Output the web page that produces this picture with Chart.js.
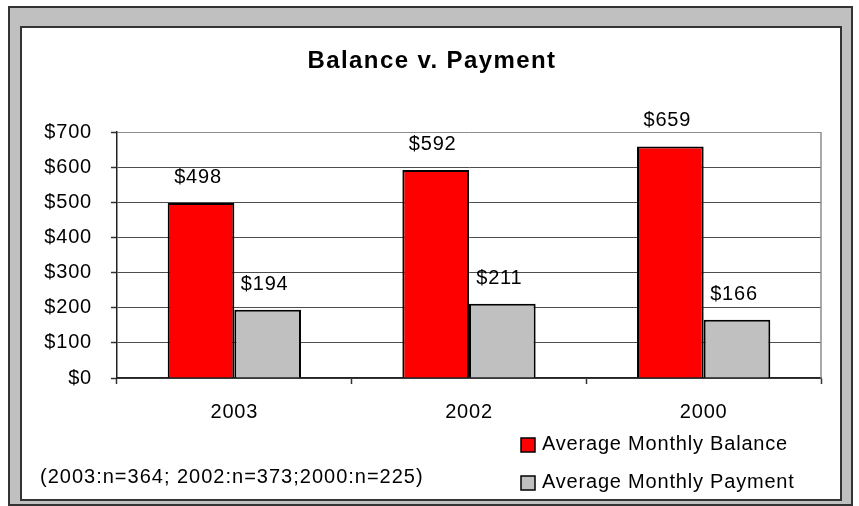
<!DOCTYPE html>
<html>
<head>
<meta charset="utf-8">
<script src="https://cdn.jsdelivr.net/npm/chart.js@4/dist/chart.umd.min.js"></script>
<style>
html,body{margin:0;padding:0;background:#fff;width:859px;height:506px;overflow:hidden;}
#outer{position:absolute;left:8px;top:6px;width:841px;height:496px;background:#c0c0c0;border:2px solid #333;}
#inner{position:absolute;left:20px;top:26px;width:818px;height:471px;background:#fff;border:2px solid #333;}
canvas{position:absolute;left:0;top:0;}
</style>
</head>
<body>
<div id="outer"></div>
<div id="inner"></div>
<canvas id="c" width="859" height="506"></canvas>
<script>
const categories = ['2003', '2002', '2000'];
const balanceValues = [498, 592, 659];
const paymentValues = [194, 211, 166];
const seriesNames = ['Average Monthly Balance', 'Average Monthly Payment'];
const yTickValues = [0, 100, 200, 300, 400, 500, 600, 700];
const chartTitle = 'Balance v. Payment';
const footnote = '(2003:n=364; 2002:n=373;2000:n=225)';

const FONT = '"Liberation Sans", Arial, sans-serif';

const spacingPlugin = {
  id: 'spacing',
  beforeDraw(chart) { chart.ctx.letterSpacing = '0.8px'; }
};

const valueLabels = {
  id: 'valueLabels',
  afterDatasetsDraw(chart) {
    const ctx = chart.ctx;
    ctx.save();
    ctx.letterSpacing = '0.8px';
    ctx.font = '20px ' + FONT;
    ctx.fillStyle = '#000';
    ctx.textAlign = 'center';
    ctx.textBaseline = 'alphabetic';
    chart.data.datasets.forEach((ds, i) => {
      chart.getDatasetMeta(i).data.forEach((bar, j) => {
        ctx.fillText('$' + ds.data[j], bar.x - 3, bar.y - 20);
      });
    });
    ctx.restore();
  }
};

const decor = {
  id: 'decor',
  afterDraw(chart) {
    const ctx = chart.ctx;
    const a = chart.chartArea;
    ctx.save();
    ctx.strokeStyle = '#8c8c8c';
    ctx.lineWidth = 1.5;
    ctx.beginPath();
    ctx.moveTo(a.right, a.top);
    ctx.lineTo(a.right, a.bottom);
    ctx.stroke();

    ctx.fillStyle = '#000';
    ctx.font = 'bold 24px ' + FONT;
    ctx.letterSpacing = '1.4px';
    ctx.textAlign = 'center';
    ctx.textBaseline = 'alphabetic';
    ctx.fillText(chartTitle, 432, 68);

    ctx.font = '20px ' + FONT;
    ctx.letterSpacing = '0.8px';
    ctx.textAlign = 'left';
    const rows = [450, 488];
    chart.data.datasets.forEach((ds, i) => {
      const y = rows[i];
      ctx.fillStyle = ds.backgroundColor;
      ctx.fillRect(521, y - 12, 14, 14);
      ctx.strokeStyle = '#000';
      ctx.lineWidth = 1.5;
      ctx.strokeRect(521, y - 12, 14, 14);
      ctx.fillStyle = '#000';
      ctx.fillText(ds.label, 542, y);
    });
    ctx.letterSpacing = '1px';
    ctx.fillText(footnote, 40, 483);
    ctx.restore();
  }
};

new Chart(document.getElementById('c'), {
  type: 'bar',
  data: {
    labels: categories,
    datasets: [
      { label: seriesNames[0], data: balanceValues, backgroundColor: '#ff0000', borderColor: '#000', borderWidth: 2 },
      { label: seriesNames[1], data: paymentValues, backgroundColor: '#c0c0c0', borderColor: '#000', borderWidth: 2 }
    ]
  },
  options: {
    responsive: false,
    animation: false,
    devicePixelRatio: 1,
    categoryPercentage: 0.568,
    barPercentage: 1,
    layout: { padding: { left: 0, top: 132, right: 38, bottom: 0 } },
    plugins: { legend: { display: false }, tooltip: { enabled: false }, title: { display: false } },
    scales: {
      x: {
        offset: true,
        grid: { offset: true, drawOnChartArea: false, drawTicks: true, tickLength: 6, tickColor: '#333', tickWidth: 1.5 },
        border: { color: '#222', width: 1.5 },
        ticks: { color: '#000', font: { family: FONT, size: 20 }, padding: 16, maxRotation: 0 },
        afterFit(s) { s.height = 128; }
      },
      y: {
        min: 0, max: 700,
        afterBuildTicks(s) { s.ticks = yTickValues.map(v => ({ value: v })); },
        grid: {
          color: c => (c.tick && c.tick.value === 700) ? '#8c8c8c' : '#4d4d4d',
          lineWidth: 1, tickLength: 6, tickColor: '#333', tickWidth: 1.5
        },
        border: { color: '#222', width: 1.5 },
        ticks: { color: '#000', font: { family: FONT, size: 20 }, padding: 19, callback: v => '$' + v },
        afterFit(s) { s.width = 117; }
      }
    }
  },
  plugins: [spacingPlugin, valueLabels, decor]
});
</script>
</body>
</html>
